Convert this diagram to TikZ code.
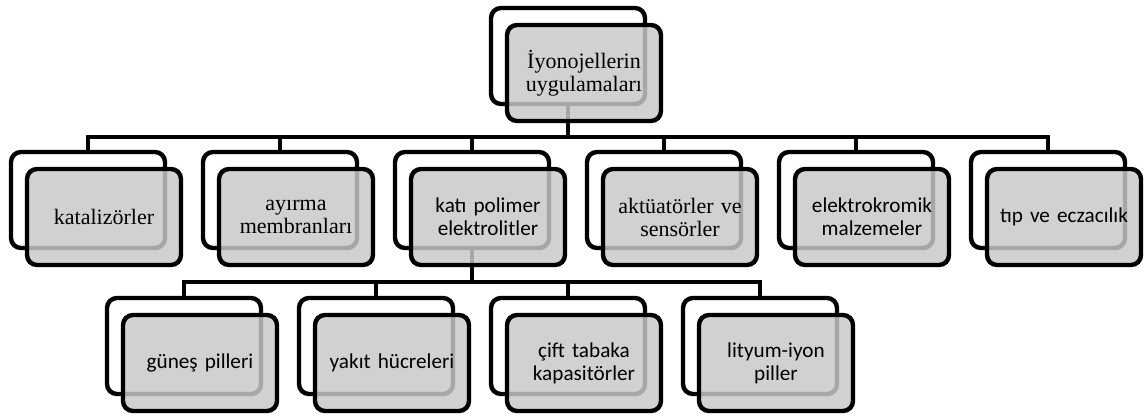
\documentclass[tikz,border=0pt]{standalone}
\usepackage{fontspec}
\setmainfont{Liberation Serif}
\newfontfamily\calibri{Carlito}
\usetikzlibrary{positioning}
\definecolor{smGray}{RGB}{200,200,200}

\begin{document}
\begin{tikzpicture}[
    x=0.5pt, y=-0.5pt,
    node distance=19pt,
    backbox/.style={
        rectangle,
        rounded corners=5pt,
        minimum width=77pt,
        minimum height=48pt,
        outer sep=0pt,
        draw=black,
        line width=2.2pt
    },
    frontbox/.style={
        backbox,
        fill=smGray,
        fill opacity=0.84,
        text opacity=1,
        text width=70pt,
        align=center,
        inner sep=2pt
    },
    serif/.style={font=\fontsize{11}{11.5}\selectfont},
    sans/.style={font=\calibri\fontsize{10.6}{11.5}\selectfont},
    conn/.style={draw=black, line width=2.2pt}
]
\useasboundingbox (0,0) rectangle (1146,417);

% Back boxes - top
\node[backbox] (appsb) at (568,56) {};

% Back boxes - middle row
\node[backbox] (katb) at (88,200) {};
\node[backbox, right=of katb] (ayrb) {};
\node[backbox, right=of ayrb] (kpeb) {};
\node[backbox, right=of kpeb] (aktb) {};
\node[backbox, right=of aktb] (ekrb) {};
\node[backbox, right=of ekrb] (tipb) {};

% Back boxes - bottom row
\node[backbox] (gunb) at (184,346) {};
\node[backbox, right=of gunb] (yakb) {};
\node[backbox, right=of yakb] (cifb) {};
\node[backbox, right=of cifb] (litb) {};

% Connectors
\foreach \c in {katb,ayrb,kpeb,aktb,ekrb,tipb}
    \draw[conn] (appsb.south) -- ++(0,33) -| (\c.north);
\foreach \g in {gunb,yakb,cifb,litb}
    \draw[conn] (kpeb.south) -- ++(0,34) -| (\g.north);

% Front boxes with text
\node[frontbox, serif] (apps) at ([shift={(16,17)}]appsb) {İyonojellerin\\uygulamaları};

\node[frontbox, serif] (kat) at ([shift={(16,17)}]katb) {katalizörler};
\node[frontbox, serif] (ayr) at ([shift={(16,17)}]ayrb) {ayırma\\membranları};
\node[frontbox, sans] (kpe) at ([shift={(16,17)}]kpeb) {katı polimer\\elektrolitler};
\node[frontbox, serif] (akt) at ([shift={(16,17)}]aktb) {aktüatörler ve\\sensörler};
\node[frontbox, sans] (ekr) at ([shift={(16,17)}]ekrb) {elektrokromik\\malzemeler};
\node[frontbox, sans] (tip) at ([shift={(16,17)}]tipb) {tıp ve eczacılık};

\node[frontbox, sans] (gun) at ([shift={(16,17)}]gunb) {güneş pilleri};
\node[frontbox, sans] (yak) at ([shift={(16,17)}]yakb) {yakıt hücreleri};
\node[frontbox, sans] (cif) at ([shift={(16,17)}]cifb) {çift tabaka\\kapasitörler};
\node[frontbox, sans] (lit) at ([shift={(16,17)}]litb) {lityum-iyon\\piller};

\end{tikzpicture}
\end{document}
